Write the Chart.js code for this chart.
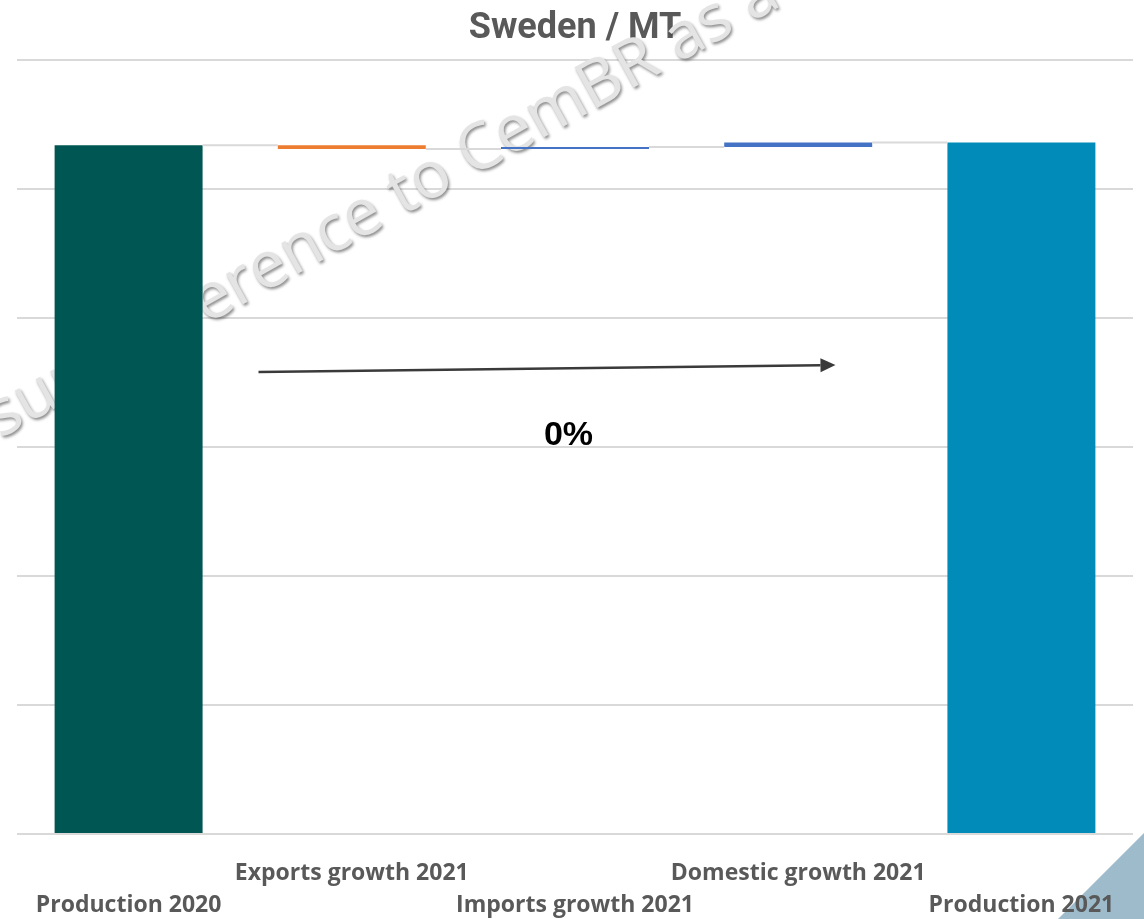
<!DOCTYPE html>
<html>
<head>
<meta charset="utf-8">
<script src="https://cdn.jsdelivr.net/npm/chart.js@4/dist/chart.umd.min.js"></script>
<style>
  html, body { margin: 0; padding: 0; background: #ffffff; }
  #wrap { width: 1144px; height: 919px; }
</style>
</head>
<body>
<div id="wrap"><canvas id="c" width="1144" height="919"></canvas></div>
<script>
// ---- Data ----
const categories = ['Production 2020', 'Exports growth 2021', 'Imports growth 2021', 'Domestic growth 2021', 'Production 2021'];
const stepValues = [2.67, -0.015, 0.008, 0.017, 2.68];   // MT; totals and changes
const isTotal = [true, false, false, false, true];
const barColors = ['#005652', '#ED7D31', '#4472C4', '#4472C4', '#008BB8'];
const yTicks = [0, 0.5, 1, 1.5, 2, 2.5, 3];
const titleText = 'Sweden / MT';
const watermarkText = 'Please ensure reference to CemBR as a source';

// build floating bars
const floating = [];
const levels = [];
let running = 0;
stepValues.forEach((v, i) => {
  if (isTotal[i]) { floating.push([0, v]); running = v; }
  else { floating.push([running, running + v]); running += v; }
  levels.push(running);
});
const growthPct = Math.round((stepValues[4] / stepValues[0] - 1) * 100) + '%';

const decorPlugin = {
  id: 'decor',
  beforeDraw(chart) {
    const ctx = chart.ctx;
    const W = chart.width, H = chart.height;
    ctx.save();
    ctx.fillStyle = '#ffffff';
    ctx.fillRect(0, 0, W, H);
    // corner triangle
    ctx.fillStyle = '#9DBBCB';
    ctx.beginPath();
    ctx.moveTo(W, H - 86);
    ctx.lineTo(W, H);
    ctx.lineTo(W - 86, H);
    ctx.closePath();
    ctx.fill();
    ctx.restore();
  },
  beforeDatasetsDraw(chart) {
    const ctx = chart.ctx;
    ctx.save();
    ctx.font = '65px "Open Sans"';
    const pre2 = ctx.measureText('Please ensure reference ').width;
    ctx.translate(402, 216);
    ctx.rotate(-29 * Math.PI / 180);
    ctx.textBaseline = 'alphabetic';
    ctx.shadowColor = 'rgba(0,0,0,0.45)';
    ctx.shadowOffsetX = 1.5;
    ctx.shadowOffsetY = 2;
    ctx.shadowBlur = 3;
    ctx.fillStyle = '#e4e4e4';
    ctx.fillText(watermarkText, -pre2, 0);
    ctx.restore();
  },
  afterDatasetsDraw(chart) {
    const ctx = chart.ctx;
    const x = chart.scales.x, y = chart.scales.y;
    const meta = chart.getDatasetMeta(0);
    ctx.save();
    // connectors
    ctx.strokeStyle = '#D9D9D9';
    ctx.lineWidth = 2;
    for (let i = 0; i < meta.data.length - 1; i++) {
      const a = meta.data[i], b = meta.data[i + 1];
      const py = y.getPixelForValue(levels[i]);
      ctx.beginPath();
      ctx.moveTo(a.x + a.width / 2, py);
      ctx.lineTo(b.x - b.width / 2, py);
      ctx.stroke();
    }
    // arrow
    const x1 = x.getPixelForValue(0.582), y1 = y.getPixelForValue(1.791);
    const x2 = x.getPixelForValue(3.167), y2 = y.getPixelForValue(1.818);
    const ang = Math.atan2(y2 - y1, x2 - x1);
    const head = 15;
    ctx.strokeStyle = '#3a3a3a';
    ctx.fillStyle = '#3a3a3a';
    ctx.lineWidth = 2.5;
    ctx.beginPath();
    ctx.moveTo(x1, y1);
    ctx.lineTo(x2 - head * Math.cos(ang), y2 - head * Math.sin(ang));
    ctx.stroke();
    ctx.beginPath();
    ctx.moveTo(x2, y2);
    ctx.lineTo(x2 - head * Math.cos(ang) + 7 * Math.sin(ang), y2 - head * Math.sin(ang) - 7 * Math.cos(ang));
    ctx.lineTo(x2 - head * Math.cos(ang) - 7 * Math.sin(ang), y2 - head * Math.sin(ang) + 7 * Math.cos(ang));
    ctx.closePath();
    ctx.fill();
    // percentage label
    ctx.fillStyle = '#000000';
    ctx.font = 'bold 34px "Liberation Sans", Arial, sans-serif';
    ctx.textAlign = 'center';
    ctx.textBaseline = 'middle';
    ctx.fillText(growthPct, x.getPixelForValue(1.971), y.getPixelForValue(1.546));
    ctx.restore();
  }
};

new Chart(document.getElementById('c'), {
  type: 'bar',
  data: {
    labels: categories,
    datasets: [{
      data: floating,
      backgroundColor: barColors,
      borderWidth: 0,
      borderSkipped: false,
      categoryPercentage: 1,
      barPercentage: 0.663
    }]
  },
  options: {
    responsive: false,
    animation: false,
    devicePixelRatio: 1,
    layout: { padding: { left: 17, right: 11, top: 0, bottom: 0 } },
    plugins: {
      legend: { display: false },
      tooltip: { enabled: false },
      title: {
        display: true,
        text: titleText,
        color: '#595959',
        font: { family: 'Roboto', weight: 'bold', size: 36, lineHeight: 1.2 },
        padding: { top: 7, bottom: 9.8 }
      }
    },
    scales: {
      x: {
        grid: { display: false, drawTicks: false },
        border: { display: false },
        afterFit: (s) => { s.height = 85; },
        ticks: {
          autoSkip: false,
          maxRotation: 0,
          minRotation: 0,
          padding: 23,
          color: '#595959',
          font: { family: 'Open Sans', weight: 'bold', size: 23, lineHeight: 32 / 23 },
          callback: (v, i) => (i % 2 ? [categories[i], ''] : ['', categories[i]])
        }
      },
      y: {
        min: yTicks[0],
        max: yTicks[yTicks.length - 1],
        afterBuildTicks: (s) => { s.ticks = yTicks.map(v => ({ value: v })); },
        grid: { color: '#D9D9D9', lineWidth: 2, drawTicks: false },
        border: { display: false },
        ticks: { display: false }
      }
    }
  },
  plugins: [decorPlugin]
});
</script>
</body>
</html>
